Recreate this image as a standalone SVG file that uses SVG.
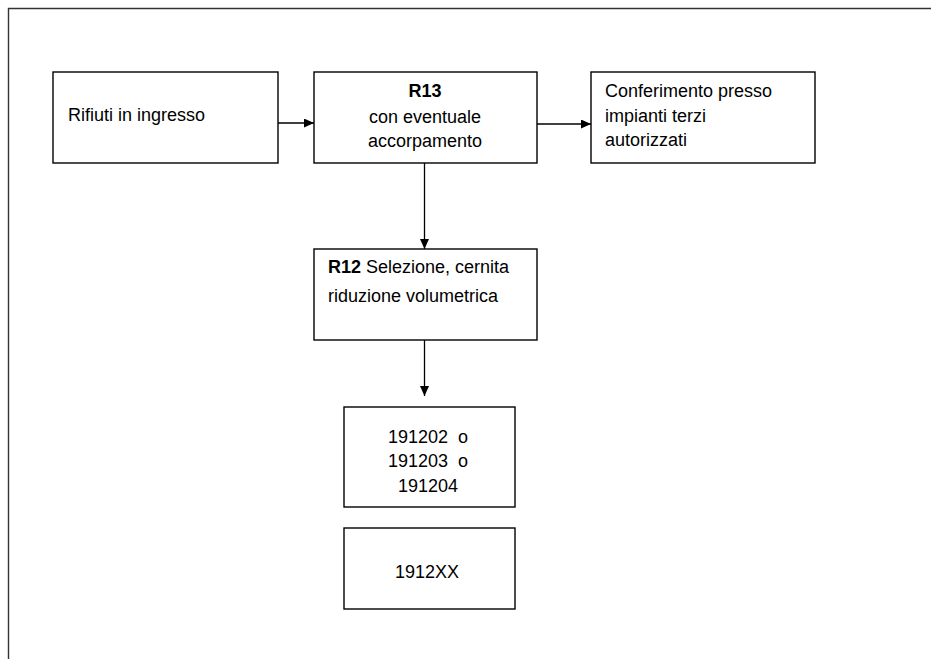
<svg xmlns="http://www.w3.org/2000/svg" width="931" height="659" viewBox="0 0 931 659">
  <defs>
    <marker id="arr" viewBox="0 0 10 9" refX="10" refY="4.5" markerWidth="10" markerHeight="9" markerUnits="userSpaceOnUse" orient="auto">
      <path d="M0,0 L10,4.5 L0,9 Z" fill="#000"/>
    </marker>
    <style>
      .box { fill: #fff; stroke: #000; stroke-width: 1.4; }
      .t { font-family: "Liberation Sans", Arial, sans-serif; font-size: 18px; fill: #000; }
      .b { font-weight: bold; }
      .c { text-anchor: middle; }
      .con { stroke: #000; stroke-width: 1.3; fill: none; marker-end: url(#arr); }
    </style>
  </defs>
  <rect width="931" height="659" fill="#fff"/>
  <path d="M8.5,659 V8.5 H931" fill="none" stroke="#333" stroke-width="1.4"/>

  <g id="connectors">
    <line class="con" x1="278" y1="123" x2="314" y2="123"/>
    <line class="con" x1="537" y1="124" x2="591" y2="124"/>
    <line class="con" x1="424.5" y1="163" x2="424.5" y2="249"/>
    <line class="con" x1="424.5" y1="340" x2="424.5" y2="396"/>
  </g>

  <g id="rifiuti">
    <rect class="box" x="53" y="72" width="225" height="91"/>
    <text class="t" x="68" y="121">Rifiuti in ingresso</text>
  </g>

  <g id="r13">
    <rect class="box" x="314" y="72" width="223" height="91"/>
    <text class="t b c" x="425" y="97">R13</text>
    <text class="t c" x="425" y="123">con eventuale</text>
    <text class="t c" x="425" y="147">accorpamento</text>
  </g>

  <g id="conferimento">
    <rect class="box" x="591" y="72" width="224" height="91"/>
    <text class="t" x="605" y="97">Conferimento presso</text>
    <text class="t" x="605" y="122">impianti terzi</text>
    <text class="t" x="605" y="146">autorizzati</text>
  </g>

  <g id="r12">
    <rect class="box" x="314" y="249" width="223" height="91"/>
    <text class="t" x="328" y="273"><tspan class="b">R12</tspan> Selezione, cernita</text>
    <text class="t" x="328" y="302">riduzione volumetrica</text>
  </g>

  <g id="codici">
    <rect class="box" x="344" y="407" width="171" height="100"/>
    <text class="t c" x="428" y="443">191202&#160; o</text>
    <text class="t c" x="428" y="467">191203&#160; o</text>
    <text class="t c" x="428" y="492">191204</text>
  </g>

  <g id="codice-xx">
    <rect class="box" x="344" y="528" width="171" height="81"/>
    <text class="t c" x="427" y="578">1912XX</text>
  </g>
</svg>
